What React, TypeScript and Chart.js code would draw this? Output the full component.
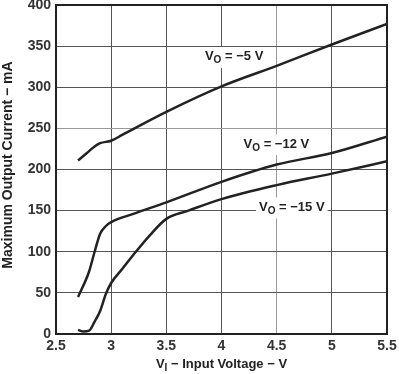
import React, { useEffect, useRef } from "react";
import { Chart, registerables } from "chart.js";

Chart.register(...registerables);

const xVo5 = [2.7, 2.78, 2.85, 2.9, 3.0, 3.1, 3.5, 4.0, 4.5, 5.0, 5.5];
const yVo5 = [211, 220, 228, 232, 235, 242, 270, 301, 326, 352, 377];

const xVo12 = [2.7, 2.8, 2.85, 2.9, 2.95, 3.0, 3.2, 3.5, 4.0, 4.5, 5.0, 5.5];
const yVo12 = [45, 76, 100, 122, 131, 136, 146, 160, 185, 206, 220, 240];

const xVo15 = [2.7, 2.75, 2.8, 2.85, 2.9, 2.95, 3.0, 3.1, 3.2, 3.35, 3.5, 3.7, 4.0, 4.5, 5.0, 5.5];
const yVo15 = [5, 3, 4, 15, 28, 48, 62, 79, 96, 120, 140, 150, 164, 181, 195, 210];

const curveLabels = [
  { main: "V", sub: "O", rest: " = \u22125 V", x: 3.85, y: 337 },
  { main: "V", sub: "O", rest: " = \u221212 V", x: 4.2, y: 231 },
  { main: "V", sub: "O", rest: " = \u221215 V", x: 4.34, y: 154 },
];

const FONT = "'Liberation Sans', Arial, sans-serif";
const INK = "#222";

function drawSub(
  ctx: CanvasRenderingContext2D,
  main: string,
  sub: string,
  rest: string,
  x: number,
  y: number,
  size: number,
  bg: boolean,
  align: "left" | "center"
) {
  ctx.save();
  ctx.textBaseline = "middle";
  ctx.textAlign = "left";
  const f1 = `bold ${size}px ${FONT}`;
  const f2 = `bold ${Math.round(size * 0.75)}px ${FONT}`;
  ctx.font = f1;
  const w1 = ctx.measureText(main).width;
  const w3 = ctx.measureText(rest).width;
  ctx.font = f2;
  const w2 = ctx.measureText(sub).width;
  const total = w1 + w2 + w3;
  const x0 = align === "center" ? x - total / 2 : x;
  if (bg) {
    ctx.fillStyle = "#fff";
    ctx.fillRect(x0 - 3, y - size * 0.75, total + 6, size * 1.6);
  }
  ctx.fillStyle = INK;
  ctx.font = f1;
  ctx.fillText(main, x0, y);
  ctx.font = f2;
  ctx.fillText(sub, x0 + w1, y + size * 0.3);
  ctx.font = f1;
  ctx.fillText(rest, x0 + w1 + w2, y);
  ctx.restore();
}

const annot = {
  id: "annot",
  afterDraw(chart: any) {
    const ctx = chart.ctx as CanvasRenderingContext2D;
    const xs = chart.scales.x;
    const ys = chart.scales.y;
    const a = chart.chartArea;
    ctx.save();
    ctx.strokeStyle = INK;
    ctx.lineWidth = 2;
    ctx.strokeRect(a.left, a.top, a.right - a.left, a.bottom - a.top);
    ctx.restore();
    for (const l of curveLabels) {
      drawSub(ctx, l.main, l.sub, l.rest, xs.getPixelForValue(l.x), ys.getPixelForValue(l.y), 13, true, "left");
    }
    drawSub(ctx, "V", "I", " \u2212 Input Voltage \u2212 V", (a.left + a.right) / 2, 364, 13, false, "center");
    ctx.save();
    ctx.translate(8, 165);
    ctx.rotate(-Math.PI / 2);
    ctx.font = `bold 14px ${FONT}`;
    ctx.fillStyle = INK;
    ctx.textAlign = "center";
    ctx.textBaseline = "middle";
    ctx.fillText("Maximum Output Current \u2212 mA", 0, 0);
    ctx.restore();
  },
};

function toPts(xs: number[], ys: number[]) {
  return xs.map((x, i) => ({ x, y: ys[i] }));
}

export default function App() {
  const ref = useRef<HTMLCanvasElement>(null);
  useEffect(() => {
    const ds = (xs: number[], ys: number[]) => ({
      data: toPts(xs, ys),
      borderColor: INK,
      borderWidth: 2.5,
      pointRadius: 0,
      fill: false,
      cubicInterpolationMode: "monotone" as const,
    });
    const chart = new Chart(ref.current!, {
      type: "line",
      data: {
        datasets: [ds(xVo5, yVo5), ds(xVo12, yVo12), ds(xVo15, yVo15)],
      },
      options: {
        animation: false,
        responsive: false,
        maintainAspectRatio: false,
        layout: { padding: { top: 5, right: 12, left: 0, bottom: 0 } },
        plugins: { legend: { display: false }, tooltip: { enabled: false } },
        scales: {
          x: {
            type: "linear",
            min: 2.5,
            max: 5.5,
            ticks: {
              stepSize: 0.5,
              font: { family: FONT, size: 14, weight: "bold" },
              color: "#333",
              padding: 4,
              callback: (v: any) => String(Number(v)),
            },
            grid: {
              color: (c: any) => (c.tick && c.tick.value === 4.5 ? "#999" : "#555"),
              lineWidth: 1,
              drawTicks: false,
            },
            border: { display: false },
            afterFit: (s: any) => {
              s.height = 40;
              s.paddingLeft = 0;
              s.paddingRight = 0;
            },
          },
          y: {
            type: "linear",
            min: 0,
            max: 400,
            ticks: {
              stepSize: 50,
              font: { family: FONT, size: 14, weight: "bold" },
              color: "#333",
              padding: 5,
            },
            grid: {
              color: (c: any) => (c.tick && c.tick.value === 250 ? "#999" : "#555"),
              lineWidth: 1,
              drawTicks: false,
            },
            border: { display: false },
            afterFit: (s: any) => {
              s.width = 56;
              s.paddingTop = 0;
              s.paddingBottom = 0;
            },
          },
        },
      },
      plugins: [annot],
    });
    return () => chart.destroy();
  }, []);
  return (
    <div style={{ position: "fixed", left: 0, top: 0, width: 399, height: 374, background: "#fff" }}>
      <canvas ref={ref} width={399} height={374} style={{ width: 399, height: 374 }} />
    </div>
  );
}
